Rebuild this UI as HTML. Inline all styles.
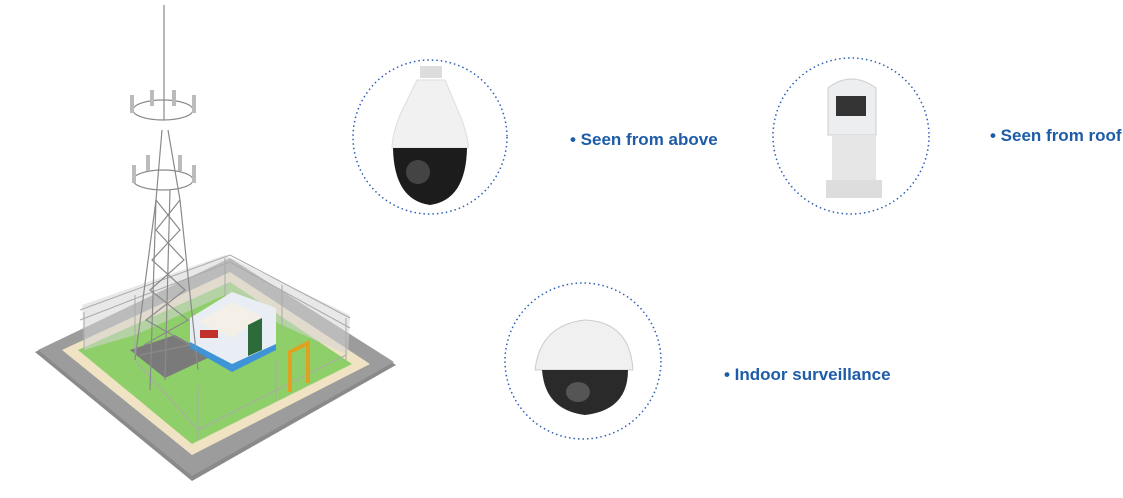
<!DOCTYPE html>
<html><head><meta charset="utf-8"><style>
body{margin:0;background:#fff;width:1123px;height:498px;overflow:hidden;position:relative;font-family:"Liberation Sans",sans-serif}
.t{position:absolute;color:#1e5ca8;font-weight:bold;font-size:17px;white-space:nowrap}
</style></head><body>
<svg width="1123" height="498" style="position:absolute;left:0;top:0">
<!-- platform -->
<polygon points="35,352 230,262 396,365 192,481" fill="#8a8a8a"/>
<polygon points="38,350 230,258 394,362 192,476" fill="#9c9c9c"/>
<polygon points="62,350 230,272 370,364 192,455" fill="#efe3c4"/>
<polygon points="78,350 230,282 352,364 192,444" fill="#8fcf6a"/>
<polygon points="130,350 175,335 212,356 165,378" fill="#7a7a7a"/>
<!-- fence mesh -->
<polygon points="82,305 225,255 350,315 348,355 282,325 225,295 135,335 84,350" fill="#d6d6d6" opacity="0.55"/>
<g stroke="#aaa" stroke-width="1" fill="none">
<polyline points="80,310 230,255 350,318"/>
<polyline points="80,320 230,262 350,328"/>
<line x1="84" y1="312" x2="84" y2="350"/><line x1="135" y1="295" x2="135" y2="360"/>
<line x1="225" y1="258" x2="225" y2="300"/><line x1="282" y1="285" x2="282" y2="330"/>
<line x1="346" y1="318" x2="346" y2="360"/><line x1="198" y1="385" x2="198" y2="440"/>
<line x1="276" y1="360" x2="276" y2="400"/><polyline points="135,360 198,430 346,355"/>
</g>
<!-- building -->
<polygon points="190,318 232,292 276,308 276,348 232,368 190,345" fill="#e8eef3"/>
<polygon points="198,322 232,302 262,316 232,338" fill="#f4f0e8"/>
<polygon points="248,325 262,318 262,350 248,356" fill="#2e6b3a"/>
<polygon points="190,342 232,364 276,344 276,350 232,372 190,348" fill="#3e94d6"/>
<rect x="200" y="330" width="18" height="8" fill="#c2302a"/>
<path d="M290 392V352L308 343V383" stroke="#e0a020" stroke-width="4" fill="none"/>
<!-- tower -->
<g stroke="#8a8a8a" stroke-width="1.2" fill="none">
<line x1="164" y1="5" x2="164" y2="120"/>
<polyline points="150,390 156,200 162,130"/><polyline points="198,370 180,200 168,130"/>
<polyline points="135,360 156,200"/><polyline points="165,380 170,190"/>
<path d="M156,200 L180,230 L152,260 L185,290 L146,320 L190,345 L140,355"/>
<path d="M180,200 L156,230 L184,260 L150,290 L188,320 L144,345"/>
<ellipse cx="163" cy="110" rx="30" ry="10"/><ellipse cx="163" cy="180" rx="30" ry="10"/>
</g>
<g fill="#bbb">
<rect x="130" y="95" width="4" height="18"/><rect x="192" y="95" width="4" height="18"/><rect x="150" y="90" width="4" height="16"/><rect x="172" y="90" width="4" height="16"/>
<rect x="132" y="165" width="4" height="18"/><rect x="192" y="165" width="4" height="18"/><rect x="146" y="155" width="4" height="16"/><rect x="178" y="155" width="4" height="16"/>
</g>
<!-- circles -->
<g fill="none" stroke="#2c5fb5" stroke-width="1.5" stroke-dasharray="1.5 3">
<circle cx="430" cy="137" r="77"/><circle cx="851" cy="136" r="78"/><circle cx="583" cy="361" r="78"/>
</g>
<!-- PTZ -->
<rect x="420" y="66" width="22" height="12" fill="#ddd"/>
<path d="M417 80H445L462 120Q470 145 468 148H392Q392 135 400 115Z" fill="#f1f1f1" stroke="#ddd"/>
<path d="M393 148H467Q466 200 430 205Q394 200 393 148Z" fill="#1c1c1c"/>
<circle cx="418" cy="172" r="12" fill="#444"/>
<!-- roof cam -->
<path d="M828 88Q851 70 876 88V135H828Z" fill="#eceef0" stroke="#ccc"/>
<rect x="836" y="96" width="30" height="20" fill="#333"/>
<rect x="832" y="135" width="44" height="45" fill="#e6e6e6"/>
<rect x="826" y="180" width="56" height="18" fill="#ddd"/>
<!-- dome -->
<path d="M535 370Q540 325 585 320Q630 322 633 370Z" fill="#f0f0f0" stroke="#ccc"/>
<path d="M542 370H628Q628 410 585 415Q545 410 542 370Z" fill="#2a2a2a"/>
<ellipse cx="578" cy="392" rx="12" ry="10" fill="#555"/>
</svg>
<div class="t" style="left:570px;top:130px">• Seen from above</div>
<div class="t" style="left:990px;top:126px">• Seen from roof</div>
<div class="t" style="left:724px;top:365px">• Indoor surveillance</div>
</body></html>
